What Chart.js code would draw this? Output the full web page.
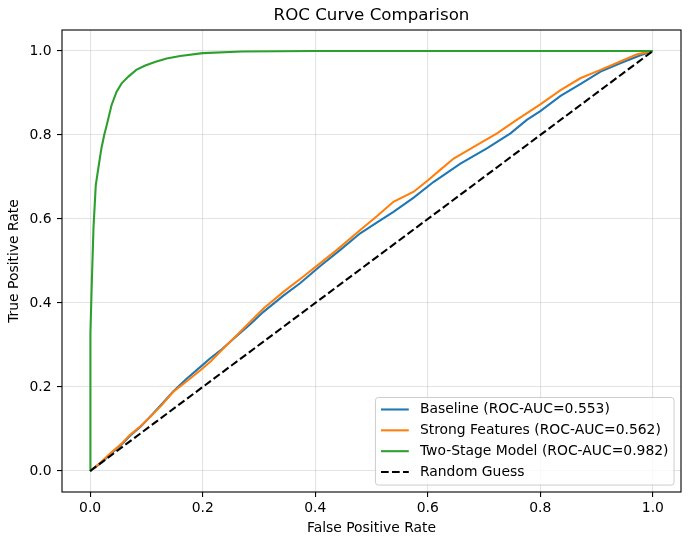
<!DOCTYPE html>
<html>
<head>
<meta charset="utf-8">
<script src="https://cdn.jsdelivr.net/npm/chart.js@4.4.1/dist/chart.umd.min.js"></script>
<style>
html,body{margin:0;padding:0;background:#ffffff;}
#wrap{width:691px;height:545px;}
</style>
</head>
<body>
<div id="wrap"><canvas id="c" width="691" height="545"></canvas></div>
<script>
// ---- text ----
const chartTitle = 'ROC Curve Comparison';
const xAxisLabel = 'False Positive Rate';
const yAxisLabel = 'True Positive Rate';
const seriesNames = [
  'Baseline (ROC-AUC=0.553)',
  'Strong Features (ROC-AUC=0.562)',
  'Two-Stage Model (ROC-AUC=0.982)',
  'Random Guess'
];
// ---- ticks ----
const tickValues = [0.0, 0.2, 0.4, 0.6, 0.8, 1.0];

// ---- data ----
const baselineFpr = [0, 0.02, 0.036, 0.055, 0.071, 0.09, 0.107, 0.128, 0.148, 0.17, 0.196, 0.213, 0.234, 0.261, 0.285, 0.308, 0.344, 0.373, 0.409, 0.444, 0.48, 0.51, 0.539, 0.575, 0.61, 0.658, 0.705, 0.747, 0.776, 0.8, 0.836, 0.871, 0.907, 0.942, 0.978, 1.0];
const baselineTpr = [0, 0.02, 0.04, 0.062, 0.084, 0.106, 0.13, 0.16, 0.19, 0.218, 0.248, 0.268, 0.29, 0.322, 0.35, 0.379, 0.418, 0.447, 0.488, 0.526, 0.566, 0.592, 0.617, 0.651, 0.688, 0.732, 0.768, 0.804, 0.836, 0.857, 0.893, 0.921, 0.951, 0.971, 0.990, 1.0];

const strongFpr = [0, 0.02, 0.036, 0.055, 0.071, 0.09, 0.107, 0.128, 0.148, 0.17, 0.196, 0.215, 0.234, 0.261, 0.285, 0.308, 0.344, 0.379, 0.409, 0.438, 0.48, 0.51, 0.539, 0.575, 0.601, 0.622, 0.646, 0.687, 0.723, 0.758, 0.8, 0.836, 0.871, 0.907, 0.942, 0.972, 1.0];
const strongTpr = [0, 0.022, 0.042, 0.064, 0.086, 0.107, 0.129, 0.158, 0.189, 0.212, 0.240, 0.262, 0.288, 0.324, 0.356, 0.387, 0.427, 0.463, 0.495, 0.526, 0.574, 0.607, 0.641, 0.665, 0.693, 0.717, 0.744, 0.776, 0.804, 0.836, 0.873, 0.907, 0.935, 0.955, 0.975, 0.992, 1.0];

const twoStageFpr = [0, 0, 0.001, 0.003, 0.006, 0.010, 0.015, 0.020, 0.025, 0.029, 0.038, 0.047, 0.056, 0.068, 0.082, 0.097, 0.115, 0.136, 0.160, 0.200, 0.270, 0.400, 1.0];
const twoStageTpr = [0, 0.20, 0.33, 0.45, 0.58, 0.68, 0.725, 0.768, 0.800, 0.821, 0.871, 0.903, 0.923, 0.939, 0.955, 0.965, 0.974, 0.982, 0.988, 0.995, 0.999, 1.0, 1.0];

const randomFpr = [0, 1];
const randomTpr = [0, 1];

// ---- styles ----
const seriesColors = ['#1f77b4', '#ff7f0e', '#2ca02c', '#000000'];
const seriesDash = [[], [], [], [7.7, 3.3]];
const FONT = 'DejaVu Sans';
const FS = 13.9;

function pts(xs, ys) { return xs.map((x, i) => ({x: x, y: ys[i]})); }
const seriesData = [
  pts(baselineFpr, baselineTpr),
  pts(strongFpr, strongTpr),
  pts(twoStageFpr, twoStageTpr),
  pts(randomFpr, randomTpr)
];

Chart.defaults.color = '#000000';
Chart.defaults.font.family = FONT;

const framePlugin = {
  id: 'frame',
  afterDatasetsDraw(chart) {
    const a = chart.chartArea, ctx = chart.ctx;
    ctx.save();
    ctx.strokeStyle = '#000';
    ctx.lineWidth = 1.1;
    ctx.strokeRect(a.left, a.top, a.right - a.left, a.bottom - a.top);
    ctx.restore();
  }
};

const legendPlugin = {
  id: 'innerLegend',
  afterDraw(chart) {
    const a = chart.chartArea, ctx = chart.ctx;
    ctx.save();
    ctx.font = FS + 'px "' + FONT + '"';
    let maxW = 0;
    seriesNames.forEach(n => { maxW = Math.max(maxW, ctx.measureText(n).width); });
    const pad = 0.4 * FS, hl = 2 * FS, htp = 0.8 * FS, ls = 0.5 * FS;
    const w = pad + hl + htp + maxW + pad;
    const h = 2 * pad + seriesNames.length * FS + (seriesNames.length - 1) * ls;
    const right = a.right - 0.5 * FS, bottom = a.bottom - 0.5 * FS;
    const left = right - w, top = bottom - h;
    const r = 3;
    ctx.beginPath();
    ctx.moveTo(left + r, top);
    ctx.lineTo(right - r, top);
    ctx.arcTo(right, top, right, top + r, r);
    ctx.lineTo(right, bottom - r);
    ctx.arcTo(right, bottom, right - r, bottom, r);
    ctx.lineTo(left + r, bottom);
    ctx.arcTo(left, bottom, left, bottom - r, r);
    ctx.lineTo(left, top + r);
    ctx.arcTo(left, top, left + r, top, r);
    ctx.closePath();
    ctx.fillStyle = 'rgba(255,255,255,0.8)';
    ctx.fill();
    ctx.strokeStyle = '#cccccc';
    ctx.lineWidth = 1;
    ctx.stroke();
    seriesNames.forEach((n, i) => {
      const cy = top + pad + FS / 2 + i * (FS + ls) - 0.5;
      ctx.beginPath();
      ctx.setLineDash(seriesDash[i]);
      ctx.strokeStyle = seriesColors[i];
      ctx.lineWidth = 2.08;
      ctx.moveTo(left + pad, cy);
      ctx.lineTo(left + pad + hl, cy);
      ctx.stroke();
      ctx.setLineDash([]);
      ctx.fillStyle = '#000';
      ctx.textAlign = 'left';
      ctx.textBaseline = 'middle';
      ctx.fillText(n, left + pad + hl + htp, cy);
    });
    ctx.restore();
  }
};

const gridCfg = {
  color: 'rgba(176,176,176,0.35)',
  lineWidth: 1.1,
  drawTicks: true,
  tickLength: 5,
  tickColor: '#000000',
  tickWidth: 1.1
};

new Chart(document.getElementById('c'), {
  type: 'scatter',
  data: {
    datasets: seriesNames.map((n, i) => ({
      label: n,
      data: seriesData[i],
      showLine: true,
      borderColor: seriesColors[i],
      backgroundColor: seriesColors[i],
      borderWidth: 2.08,
      borderDash: seriesDash[i],
      pointRadius: 0,
      pointHoverRadius: 0,
      tension: 0,
      fill: false,
      order: seriesNames.length - 1 - i
    }))
  },
  options: {
    responsive: false,
    animation: false,
    events: [],
    layout: { padding: { left: 0, right: 10, top: 0, bottom: 0 } },
    plugins: {
      legend: { display: false },
      tooltip: { enabled: false },
      title: {
        display: true,
        text: chartTitle,
        fullSize: false,
        color: '#000',
        font: { family: FONT, size: 16.67, weight: 'normal', lineHeight: 1.2 },
        padding: { top: 6, bottom: 4 }
      }
    },
    scales: {
      x: {
        type: 'linear',
        min: -0.05,
        max: 1.05,
        afterBuildTicks(s) { s.ticks = tickValues.map(v => ({value: v})); },
        afterFit(s) { s.height = 53; },
        grid: gridCfg,
        border: { display: false },
        ticks: {
          color: '#000',
          font: { family: FONT, size: FS },
          padding: 3,
          maxRotation: 0,
          callback: v => Number(v).toFixed(1)
        },
        title: {
          display: true,
          text: xAxisLabel,
          color: '#000',
          font: { family: FONT, size: FS, lineHeight: 1.2 },
          padding: { top: 0, bottom: 8.2 }
        }
      },
      y: {
        type: 'linear',
        min: -0.05,
        max: 1.05,
        afterBuildTicks(s) { s.ticks = tickValues.map(v => ({value: v})); },
        afterFit(s) { s.width = 62; },
        grid: gridCfg,
        border: { display: false },
        ticks: {
          color: '#000',
          font: { family: FONT, size: FS },
          padding: 5.5,
          callback: v => Number(v).toFixed(1)
        },
        title: {
          display: true,
          text: yAxisLabel,
          color: '#000',
          font: { family: FONT, size: FS, lineHeight: 1.2 },
          padding: { top: 6.2, bottom: 0 }
        }
      }
    }
  },
  plugins: [framePlugin, legendPlugin]
});
</script>
</body>
</html>
